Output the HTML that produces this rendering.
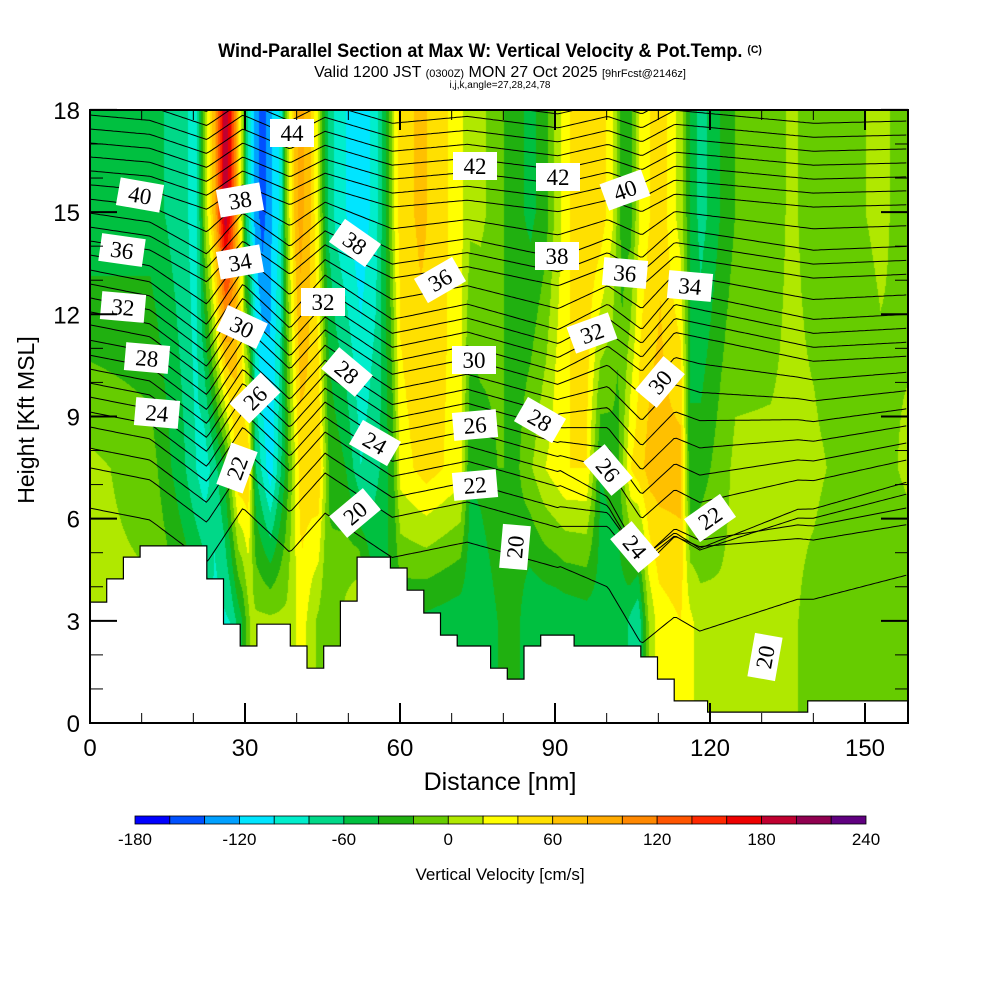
<!DOCTYPE html>
<html><head><meta charset="utf-8">
<style>
html,body{margin:0;padding:0;background:#fff;}
#wrap{position:relative;width:1000px;height:1000px;overflow:hidden;font-family:"Liberation Sans",sans-serif;}
#field{position:absolute;left:90px;top:110px;}
#ov{position:absolute;left:0;top:0;}
</style></head>
<body>
<div id="wrap">
<canvas id="field" width="818" height="613"></canvas>
<svg id="ov" width="1000" height="1000" xmlns="http://www.w3.org/2000/svg">
<g id="contours"></g>
<g id="terrain"></g>
<g id="labels"></g>
<g id="axes"></g>
<text x="490" y="57" text-anchor="middle" font-size="19" font-weight="bold" transform="translate(490,0) scale(0.95,1) translate(-490,0)">Wind-Parallel Section at Max W: Vertical Velocity &amp; Pot.Temp. <tspan font-size="11" dy="-4">(C)</tspan></text>
<text x="500" y="77" text-anchor="middle" font-size="16">Valid 1200 JST <tspan font-size="11">(0300Z)</tspan> MON 27 Oct 2025 <tspan font-size="11">[9hrFcst@2146z]</tspan></text>
<text x="500" y="88" text-anchor="middle" font-size="10">i,j,k,angle=27,28,24,78</text>
<text transform="translate(34,420) rotate(-90)" text-anchor="middle" font-size="23">Height [Kft MSL]</text>
<text x="500" y="790" text-anchor="middle" font-size="25">Distance [nm]</text>
<g id="cbar"></g>
<text x="500" y="880" text-anchor="middle" font-size="17">Vertical Velocity [cm/s]</text>
</svg>
</div>
<script>
// ---- data ----
const topX = [0,11.6,18.4,20.3,21.3,22.3,23.2,24.2,25.2,26.1,27.1,28.1,28.6,29.4,30,31,31.9,33.3,34.8,36.8,37.7,38.7,39.7,40.6,42.6,44.1,45.1,46.1,47.4,49.4,52.3,55.2,57.1,58.1,59,60,63.9,67.7,71.6,73.5,75.5,78.8,81.3,85.2,88.1,90,91.9,94.8,98.7,101,102.9,104.5,106.4,110.3,112.3,114.2,116.1,118.1,121.9,124.8,131.6,135.5,141.3,152.9,158.3];
const topW = [-55,-50,-75,-95,-50,10,40,90,150,200,160,100,50,10,-60,-100,-130,-150,-125,-95,-20,30,70,90,60,20,-30,-65,-85,-100,-115,-90,-40,-10,30,50,65,50,25,5,5,-10,-30,-45,-30,5,30,60,55,25,-30,-30,25,55,30,10,-40,-70,-40,-20,-15,5,-15,5,-10];
const midX = [0,11.6,18.4,22,26,28.6,30.5,32,34.8,37.7,40.6,44.1,46.1,49.4,52.3,56,58.5,60,65,71.6,73.5,78.8,83,88,91.9,96,98.7,102,104.5,108.4,114.2,116.1,120,124.8,140,150,158.3];
const midW = [5,-10,-60,-95,-40,60,60,-60,-115,-40,50,60,-20,-40,-80,-60,-30,30,50,30,-40,-20,-20,20,40,40,-40,-30,40,70,70,-40,-20,5,5,-15,5];
const lowX = [0,11.6,22,24,27,29.4,31,38,41,43,46,49,52,55,60,68,75.5,78.8,81.3,85,90,98,104,106,108,110,114.2,118,122,135,145,158.3];
const lowW = [5,5,-30,-90,-80,-40,5,5,30,5,-20,5,30,-40,-40,-50,-60,-40,-20,-60,-60,-50,-60,-80,0,30,40,10,5,5,-20,-20];
const terrain = [3.55,4.23,4.87,5.2,5.2,5.2,5.2,4.23,2.9,2.26,2.9,2.9,2.26,1.61,2.26,3.58,4.87,4.87,4.55,3.9,3.23,2.58,2.26,2.26,1.61,1.29,2.26,2.58,2.58,2.26,2.26,2.26,2.26,1.94,1.29,0.65,0.65,0.32,0.32,0.32,0.32,0.32,0.32,0.65,0.65,0.65,0.65,0.65,0.65];
const profX = [0,11.6,22.6,29.6,38.7,45.5,58.5,73,90.6,100.2,106.8,113.2,140,158.3];
const profP = [0,0.35,1.6,0,1.3,0.15,1.45,1.0,1.75,1.0,1.75,0.6,1.45,1.3];
const dipX = [0,91,106.4,118,137,158.3];
const dipQ = [0,0,1,1.3,0.6,0.3];
const thetaLevels = [20,21,22,23,24,25,26,27,28,29,30,31,32,33,34,35,36,37,38,39,40,41,42,43,44,45,46,47];
const thetaLeft = [6.31,7.49,8.07,8.69,9.13,9.57,9.98,10.39,10.8,11.24,11.69,12.07,12.48,12.89,13.3,13.74,14.15,14.56,14.97,15.38,15.8,16.21,16.62,17.03,17.44,17.85,18.26,18.67];
const thetaScale = [1,1,1,1,1,1,1,1,1,1,1,1,1,1,1,0.9,0.75,0.75,0.75,0.6,0.45,0.45,0.45,0.45,0.45,0.45,0.45,0.45];
const thetaDip = [2.2,1.2,1.5,2.2,2.5,1.8,1.5,1.2,0.9,0.6,0.3,0,0,0,0,0,0,0,0,0,0,0,0,0,0,0,0,0];
const cbTicks = [-180,-120,-60,0,60,120,180,240];
const binColors = ["#0000ff","#0050ff","#00a0ff","#00e5ff","#00eecc","#00d888","#00c040","#20b010","#66cc00","#b0e800","#ffff00","#ffe000","#ffc000","#ffaa00","#ff8800","#ff5500","#ff2800","#ee0000","#c00030","#900050","#600080"];
const xTicks = [0,30,60,90,120,150];
const yTicks = [0,3,6,9,12,15,18];
const labelData = [[44,292,133,0],[42,475,166,0],[42,558,177,0],[40,140,195,10],[40,625,190,-20],[38,240,200,-10],[38,355,243,35],[38,557,256,0],[36,122,250,8],[36,440,280,-30],[36,625,273,5],[34,240,262,-10],[34,690,286,5],[32,123,307,5],[32,323,302,0],[32,592,333,-20],[30,242,327,25],[30,474,360,0],[30,660,382,-50],[28,147,358,5],[28,347,372,40],[28,540,420,30],[26,255,398,-45],[26,475,425,-5],[26,608,470,50],[24,157,413,5],[24,375,443,30],[24,635,547,50],[22,237,468,-70],[22,475,485,-5],[22,710,518,-35],[20,355,513,-40],[20,515,547,-85],[20,765,657,-80]];

// ---- scales ----
const XMAX = 158.3;
function xS(nm){ return 90 + nm*5.1667; }
function yS(k){ return 723 - k*34.06; }
function interp(xs, vs, x){
  if (x<=xs[0]) return vs[0];
  for (let i=1;i<xs.length;i++){ if (x<=xs[i]){ const t=(x-xs[i-1])/(xs[i]-xs[i-1]); return vs[i-1]+t*(vs[i]-vs[i-1]); } }
  return vs[vs.length-1];
}
function hexToRgb(h){ return [parseInt(h.substr(1,2),16),parseInt(h.substr(3,2),16),parseInt(h.substr(5,2),16)]; }
const rgbBins = binColors.map(hexToRgb);
function binIdx(w){ let i=Math.floor((w+180)/20); return Math.max(0,Math.min(20,i)); }

// ---- field ----
const cv = document.getElementById('field');
const ctx = cv.getContext('2d');
const img = ctx.createImageData(818,613);
for (let px=0; px<818; px++){
  const nm = px/5.1667;
  const wt = interp(topX,topW,nm), wm = interp(midX,midW,nm), wl = interp(lowX,lowW,nm);
  for (let py=0; py<613; py++){
    const k = (613-py)/34.06;
    let w;
    if (k>=15) w=wt; else if (k>=7.5) w=wm+(wt-wm)*(k-7.5)/7.5; else if (k>=3) w=wl+(wm-wl)*(k-3)/4.5; else w=wl;
    const c = rgbBins[binIdx(w)];
    const o=(py*818+px)*4; img.data[o]=c[0]; img.data[o+1]=c[1]; img.data[o+2]=c[2]; img.data[o+3]=255;
  }
}
ctx.putImageData(img,0,0);

const NS="http://www.w3.org/2000/svg";
function mk(tag, attrs, parent){ const e=document.createElementNS(NS,tag); for(const a in attrs) e.setAttribute(a,attrs[a]); parent.appendChild(e); return e; }

const defs = mk('defs',{},document.getElementById('ov'));
const cp = mk('clipPath',{id:'plotclip'},defs);
mk('rect',{x:90,y:110,width:818,height:613},cp);

// ---- contours ----
const cg = document.getElementById('contours');
cg.setAttribute('clip-path','url(#plotclip)');
thetaLevels.forEach((lev,i)=>{
  let d='';
  for (let nm=0; nm<=XMAX+0.01; nm+=0.5){
    const k = thetaLeft[i] - thetaScale[i]*interp(profX,profP,nm) - thetaDip[i]*interp(dipX,dipQ,nm);
    d += (nm===0?'M':'L') + xS(nm).toFixed(1) + ',' + yS(k).toFixed(1);
  }
  const p = mk('path',{d:d,fill:'none',stroke:'#000','stroke-width':1},cg);
  
  
});

// ---- terrain ----
const tg = document.getElementById('terrain');
const stepW = XMAX/terrain.length;
let td = 'M'+xS(0)+','+yS(0);
terrain.forEach((h,i)=>{ td += 'L'+xS(i*stepW).toFixed(1)+','+yS(h).toFixed(1)+'L'+xS((i+1)*stepW).toFixed(1)+','+yS(h).toFixed(1); });
td += 'L'+xS(XMAX)+','+yS(0)+'Z';
const tp = mk('path',{d:td,fill:'#fff',stroke:'#000','stroke-width':1.2},tg);



// ---- labels ----
const lg = document.getElementById('labels');
labelData.forEach(l=>{
  const g = mk('g',{transform:'translate('+l[1]+','+l[2]+') rotate('+l[3]+')'},lg);
  
  
  mk('rect',{x:-22,y:-14,width:44,height:28,fill:'#fff'},g);
  const t = mk('text',{x:0,y:8,'text-anchor':'middle','font-size':23,'font-family':'"Liberation Serif",serif'},g);
  t.textContent = l[0];
});

// ---- axes ----
const ag = document.getElementById('axes');
const fr = mk('rect',{x:90,y:110,width:818,height:613,fill:'none',stroke:'#000','stroke-width':2},ag);


for (let v=0; v<=XMAX; v+=10){
  const major = (v%30===0), L = major?20:10;
  mk('line',{x1:xS(v),x2:xS(v),y1:723,y2:723-L,stroke:'#000','stroke-width':major?2:1},ag);
  mk('line',{x1:xS(v),x2:xS(v),y1:110,y2:110+L,stroke:'#000','stroke-width':major?2:1},ag);
}
for (let v=0; v<=18; v+=1){
  const major = (v%3===0), L = major?27:13;
  mk('line',{x1:90,x2:90+L,y1:yS(v),y2:yS(v),stroke:'#000','stroke-width':major?2:1},ag);
  mk('line',{x1:908,x2:908-L,y1:yS(v),y2:yS(v),stroke:'#000','stroke-width':major?2:1},ag);
}
xTicks.forEach(v=>{
  const t = mk('text',{x:xS(v),y:756,'text-anchor':'middle','font-size':24},ag);
  t.textContent = v;
  
  
});
yTicks.forEach(v=>{
  const t = mk('text',{x:80,y:yS(v)+9,'text-anchor':'end','font-size':24},ag);
  t.textContent = v;
  
  
});

// ---- colorbar ----
const cb = document.getElementById('cbar');
const cbX0=135, cbX1=866, bw=(cbX1-cbX0)/binColors.length;
binColors.forEach((c,i)=>{
  const r = mk('rect',{x:cbX0+i*bw,y:816,width:bw,height:8,fill:c,stroke:'#000','stroke-width':0.8},cb);
  
  
});
cbTicks.forEach(v=>{
  const t = mk('text',{x:cbX0+(v+180)/420*(cbX1-cbX0),y:845,'text-anchor':'middle','font-size':17},cb);
  t.textContent = v;
  
  
});
</script>
</body></html>
